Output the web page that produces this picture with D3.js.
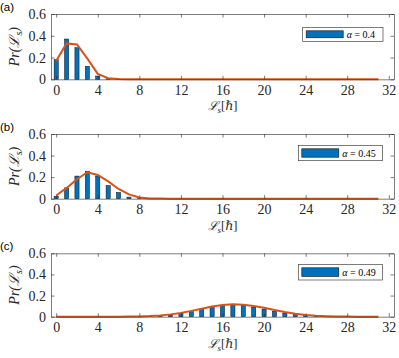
<!DOCTYPE html>
<html>
<head>
<meta charset="utf-8">
<script src="https://cdn.jsdelivr.net/npm/d3@7"></script>
<style>
  body { margin: 0; background: #fff; }
  svg { display: block; }
  text { font-family: "Liberation Serif", "DejaVu Serif", serif; }
  .panel-letter { font-family: "Liberation Sans", Arial, sans-serif; }
</style>
</head>
<body>
<div id="chart"></div>
<script>
// L_s values 0..31
var ls = d3.range(0, 32);

var xTicks = [0, 4, 8, 12, 16, 20, 24, 28, 32];
var yTicks = [0, 0.2, 0.4, 0.6];

var panelNames = ["(a)", "(b)", "(c)"];
var alphas = ["0.4", "0.45", "0.49"];

// bar heights
var barsA = [0.18, 0.37, 0.29, 0.12, 0.03, 0.004];
var barsB = [0.022, 0.10, 0.21, 0.255, 0.21, 0.122, 0.058, 0.015, 0.003];
var barsC = [0, 0, 0, 0, 0, 0, 0, 0, 0, 0.004, 0.008, 0.015, 0.03, 0.048, 0.068, 0.088,
             0.105, 0.112, 0.108, 0.092, 0.072, 0.052, 0.036, 0.022, 0.013, 0.006, 0.003];

// fitted curves
var lineA = [0.17, 0.33, 0.32, 0.19, 0.05, 0.01, 0.002, 0, 0, 0, 0, 0, 0, 0, 0, 0,
             0, 0, 0, 0, 0, 0, 0, 0, 0, 0, 0, 0, 0, 0, 0, 0];
var lineB = [0.03, 0.10, 0.18, 0.245, 0.22, 0.16, 0.09, 0.04, 0.012, 0.003, 0.001, 0, 0, 0, 0, 0,
             0, 0, 0, 0, 0, 0, 0, 0, 0, 0, 0, 0, 0, 0, 0, 0];
var lineC = [0, 0, 0, 0, 0, 0, 0, 0.001, 0.003, 0.006, 0.012, 0.022, 0.036, 0.055, 0.076, 0.096,
             0.11, 0.117, 0.114, 0.102, 0.084, 0.064, 0.045, 0.029, 0.017, 0.009, 0.005, 0.002, 0.001, 0, 0, 0];

var panels = [
    { name: panelNames[0], alpha: alphas[0], bars: barsA, line: lineA, top: 14, h: 65.3, leg: [302.7, 27.3, 80.3, 14] },
    { name: panelNames[1], alpha: alphas[1], bars: barsB, line: lineB, top: 134, h: 64.7, leg: [298.3, 145.3, 84.4, 15.4] },
    { name: panelNames[2], alpha: alphas[2], bars: barsC, line: lineC, top: 253.3, h: 63.4, leg: [298.3, 264.3, 84.4, 15.7] }
];

var width = 399, height = 358;
var left = 51, right = 394;
var axisColor = "#262626";

var svg = d3.select("#chart").append("svg")
    .attr("width", width)
    .attr("height", height);

var x = d3.scaleLinear().domain([-0.5, 32.5]).range([left, right]);
var barW = x(0.4) - x(0);

panels.forEach(function (p) {
    var y = d3.scaleLinear().domain([0, 0.6]).range([p.top + p.h, p.top]);
    var g = svg.append("g");

    // bars
    g.selectAll(".bar")
        .data(p.bars.map(function (v, i) { return { x: i, v: v }; }).filter(function (d) { return d.v > 0; }))
        .join("rect")
        .attr("x", function (d) { return x(d.x) - barW / 2; })
        .attr("y", function (d) { return y(d.v); })
        .attr("width", barW)
        .attr("height", function (d) { return y(0) - y(d.v); })
        .style("fill", "#0072BD")
        .style("stroke", "#111")
        .style("stroke-width", 0.5);

    // curve
    var line = d3.line()
        .x(function (d, i) { return x(ls[i]); })
        .y(function (d) { return y(d); });
    g.append("path")
        .datum(p.line)
        .attr("d", line)
        .attr("fill", "none")
        .attr("stroke", "#D95319")
        .attr("stroke-width", 2);

    // axes (ticks inward, box)
    var xb = g.append("g").attr("transform", "translate(0," + y(0) + ")")
        .call(d3.axisBottom(x).tickValues(xTicks).tickSizeInner(-3.5).tickSizeOuter(0).tickPadding(6));
    var xt = g.append("g").attr("transform", "translate(0," + p.top + ")")
        .call(d3.axisTop(x).tickValues(xTicks).tickSizeInner(-3.5).tickSizeOuter(0).tickFormat(""));
    var yl = g.append("g").attr("transform", "translate(" + left + ",0)")
        .call(d3.axisLeft(y).tickValues(yTicks).tickSizeInner(-3.5).tickSizeOuter(0).tickPadding(5)
            .tickFormat(function (d) { return d === 0 ? "0" : d3.format(".1f")(d); }));
    var yr = g.append("g").attr("transform", "translate(" + right + ",0)")
        .call(d3.axisRight(y).tickValues(yTicks).tickSizeInner(-3.5).tickSizeOuter(0).tickFormat(""));

    [xb, xt, yl, yr].forEach(function (a) {
        a.attr("font-family", null);
        a.selectAll("path, line").attr("stroke", axisColor).attr("stroke-width", 0.6);
        a.selectAll("text").attr("font-size", "14px").attr("fill", axisColor);
    });
    xb.selectAll("text").attr("dy", "0.68em");

    // panel letter
    svg.append("text")
        .attr("class", "panel-letter")
        .attr("x", 0)
        .attr("y", p.top - 3)
        .attr("font-size", "11.5px")
        .attr("fill", "#000")
        .text(p.name);

    // y label
    var yLab = svg.append("text")
        .attr("transform", "translate(19," + (p.top + p.h / 2) + ") rotate(-90)")
        .attr("text-anchor", "middle")
        .attr("font-size", "14px")
        .attr("font-style", "italic")
        .attr("fill", axisColor);
    yLab.append("tspan").text("Pr(ℒ");
    yLab.append("tspan").attr("font-size", "10px").attr("dy", 3).text("s");
    yLab.append("tspan").attr("dy", -3).text(")");

    // x label
    var xLab = svg.append("text")
        .attr("x", (left + right) / 2)
        .attr("y", p.top + p.h + 31)
        .attr("text-anchor", "middle")
        .attr("font-size", "12.5px")
        .attr("fill", axisColor);
    xLab.append("tspan").attr("font-style", "italic").text("ℒ");
    xLab.append("tspan").attr("font-size", "9px").attr("font-style", "italic").attr("dy", 3).text("s");
    xLab.append("tspan").attr("dy", -3).text("[ℏ]");

    // legend
    var lg = svg.append("g");
    lg.append("rect")
        .attr("x", p.leg[0]).attr("y", p.leg[1])
        .attr("width", p.leg[2]).attr("height", p.leg[3])
        .attr("fill", "#fff").attr("stroke", axisColor).attr("stroke-width", 0.6);
    lg.append("rect")
        .attr("x", p.leg[0] + 3.5).attr("y", p.leg[1] + 3.5)
        .attr("width", 37).attr("height", p.leg[3] - 7)
        .attr("fill", "#0072BD").attr("stroke", "#111").attr("stroke-width", 0.6);
    var lt = lg.append("text")
        .attr("x", p.leg[0] + 44)
        .attr("y", p.leg[1] + p.leg[3] / 2 + 3.5)
        .attr("font-size", "10px")
        .attr("fill", "#000");
    lt.append("tspan").attr("font-style", "italic").text("α");
    lt.append("tspan").text(" = " + p.alpha);
});
</script>
</body>
</html>
